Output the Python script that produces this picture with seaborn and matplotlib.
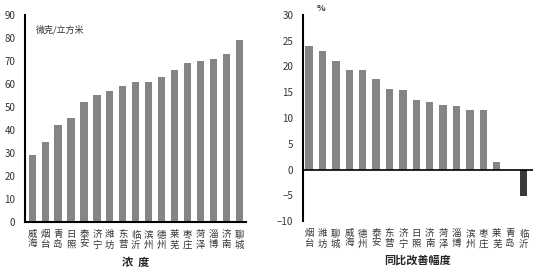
import matplotlib
matplotlib.use("Agg")
import matplotlib.pyplot as plt
import seaborn as sns
import pandas as pd
import numpy as np

sns.set_theme(style="white")
plt.rcParams['font.family'] = ['Noto Sans CJK SC', 'DejaVu Sans']

# Left chart: concentration
conc_cities = ["威海", "烟台", "青岛", "日照", "泰安", "济宁", "潍坊", "东营", "临沂",
               "滨州", "德州", "莱芜", "枣庄", "菏泽", "淄博", "济南", "聊城"]
conc_values = [29, 35, 42, 45, 52, 55, 57, 59, 61, 61, 63, 66, 69, 70, 71, 73, 79]
conc_yticks = [0, 10, 20, 30, 40, 50, 60, 70, 80, 90]

# Right chart: year-on-year improvement
imp_cities = ["烟台", "潍坊", "聊城", "威海", "德州", "泰安", "东营", "济宁", "日照",
              "济南", "菏泽", "淄博", "滨州", "枣庄", "莱芜", "青岛", "临沂"]
imp_values = [24, 23, 21, 19.4, 19.3, 17.5, 15.7, 15.4, 13.5, 13.1, 12.5, 12.3,
              11.6, 11.5, 1.4, 0, -5.1]
imp_yticks = [-10, -5, 0, 5, 10, 15, 20, 25, 30]

gray = "#858585"
dark = "#3a3a3a"

fig = plt.figure(figsize=(5.41, 2.73), dpi=100)
ax1 = fig.add_axes([25/541, 1-222/273, (246-25)/541, (222-15)/273])
ax2 = fig.add_axes([303/541, 1-221/273, (533-303)/541, (221-15)/273])

def vlabel(s):
    return "\n".join(list(s))

df1 = pd.DataFrame({"city": [vlabel(c) for c in conc_cities], "v": conc_values})
sns.barplot(data=df1, x="city", y="v", color=gray, saturation=1, width=0.55,
            ax=ax1, edgecolor="none")
ax1.set_ylim(0, 90)
ax1.set_xlim(-0.55, 16.5)
ax1.set_yticks(conc_yticks)
ax1.set_xticks(np.arange(len(conc_values) - 1) + 0.5, minor=True)
ax1.tick_params(axis="y", labelsize=7, length=2, width=1, pad=5, colors="#333333")
ax1.tick_params(axis="x", which="major", labelsize=6.8, length=0, pad=6, labelcolor="#333333")
ax1.tick_params(axis="x", which="minor", length=2.5, width=1, direction="in", color="black")
for t in ax1.get_xticklabels():
    t.set_linespacing(1.15)
ax1.set_xlabel("浓  度", fontsize=8, fontweight="bold", labelpad=4)
ax1.set_ylabel("")
for s in ["top", "right"]:
    ax1.spines[s].set_visible(False)
for s in ["left", "bottom"]:
    ax1.spines[s].set_color("black")
    ax1.spines[s].set_linewidth(1.5)
ax1.text(0.05, 0.93, "微克/立方米", transform=ax1.transAxes, fontsize=6.5,
         color="#333333", va="center", ha="left")

df2 = pd.DataFrame({"city": [vlabel(c) for c in imp_cities], "v": imp_values})
palette = [gray] * (len(imp_values) - 1) + [dark]
sns.barplot(data=df2, x="city", y="v", hue="city", palette=palette, legend=False,
            saturation=1, width=0.55, ax=ax2, edgecolor="none")
ax2.set_ylim(-10, 30)
ax2.set_xlim(-0.45, 16.7)
ax2.set_yticks(imp_yticks)
ax2.tick_params(axis="y", labelsize=7, length=2, width=1, pad=5, colors="#333333")
ax2.tick_params(axis="x", labelsize=6.8, length=0, pad=6, labelcolor="#333333")
for t in ax2.get_xticklabels():
    t.set_linespacing(1.15)
ax2.axhline(0, color="black", lw=1.2)
ax2.set_xlabel("同比改善幅度", fontsize=8, fontweight="bold", labelpad=3)
ax2.set_ylabel("")
for s in ["top", "right", "bottom"]:
    ax2.spines[s].set_visible(False)
ax2.spines["left"].set_color("black")
ax2.spines["left"].set_linewidth(1.5)
ax2.text(0.06, 1.03, "%", transform=ax2.transAxes, fontsize=6.5,
         fontweight="bold", color="#333333", va="center", ha="left")

fig.savefig("out.png", dpi=100, facecolor="white")
